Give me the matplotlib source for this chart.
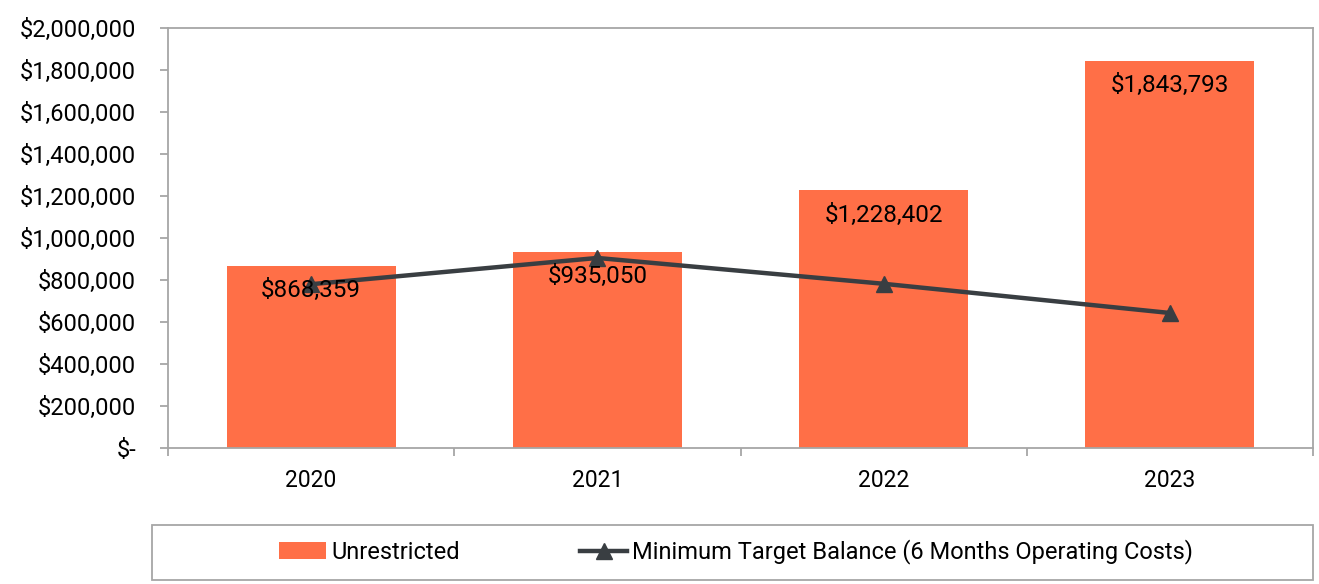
#! /usr/bin/env python3

import numpy as np
import matplotlib.pyplot as plt
from matplotlib.patches import Rectangle
from matplotlib.ticker import FuncFormatter
plt.rcParams.update({'font.family': ['Roboto', 'DejaVu Sans'], 'font.size': 17})

#======================================================================
#    Data
years = ['2020', '2021', '2022', '2023']
unrestricted = [868359, 935050, 1228402, 1843793]
minTarget = [780000, 905000, 782000, 643000]
barLabels = ['$868,359', '$935,050', '$1,228,402', '$1,843,793']

barCol = '#FF6F47'
lineCol = '#393E42'
gridCol = '#A6A6A6'

def money(val, pos):
    if val == 0:
        return '$-'
    return '${:,.0f}'.format(val)

#======================================================================
#    Code begins here
W, H = 1319, 584
fig = plt.figure(figsize=(W/100, H/100), dpi=100)
ax = fig.add_axes([168/W, 1-448/H, (1313-168)/W, (448-28)/H])

x = np.arange(len(years))
bars = ax.bar(x, unrestricted, width=0.59, color=barCol, label='Unrestricted', zorder=2)
line, = ax.plot(x, minTarget, color=lineCol, lw=3.2, marker='^', markersize=12,
                label='Minimum Target Balance (6 Months Operating Costs)', zorder=3)

for i in x:
    ax.annotate(barLabels[i], (i, unrestricted[i]), xytext=(0, -25),
                textcoords='offset pixels', ha='center', va='center',
                fontsize=17.5, color='black', zorder=4)

ax.set_xlim(-0.5, len(years) - 0.5)
ax.set_ylim(0, 2000000)
ax.set_yticks(np.arange(0, 2000001, 200000))
ax.yaxis.set_major_formatter(FuncFormatter(money))
ax.set_xticks(x)
ax.set_xticklabels(years, fontsize=16.5)
ax.set_xticks(np.arange(-0.5, len(years), 1), minor=True)
ax.tick_params(axis='x', which='major', length=0, pad=15)
ax.tick_params(axis='x', which='minor', length=6, color=gridCol, width=1.3)
ax.tick_params(axis='y', length=6, color=gridCol, width=1.3, pad=17)
for s in ax.spines.values():
    s.set_color(gridCol)
    s.set_linewidth(1.3)

# legend box below the plot
fig.patches.append(Rectangle((152/W, 1-580/H), (1313-152)/W, 55/H,
                             transform=fig.transFigure, fill=False,
                             edgecolor=gridCol, lw=1.3))
fig.legend([bars, line], [bars.get_label(), line.get_label()], loc='center',
           bbox_to_anchor=(736/W, 1-552/H), ncol=2, frameon=False,
           columnspacing=5.1, handlelength=2.0, handletextpad=0.2, fontsize=17)

fig.savefig('out.png', dpi=100)
